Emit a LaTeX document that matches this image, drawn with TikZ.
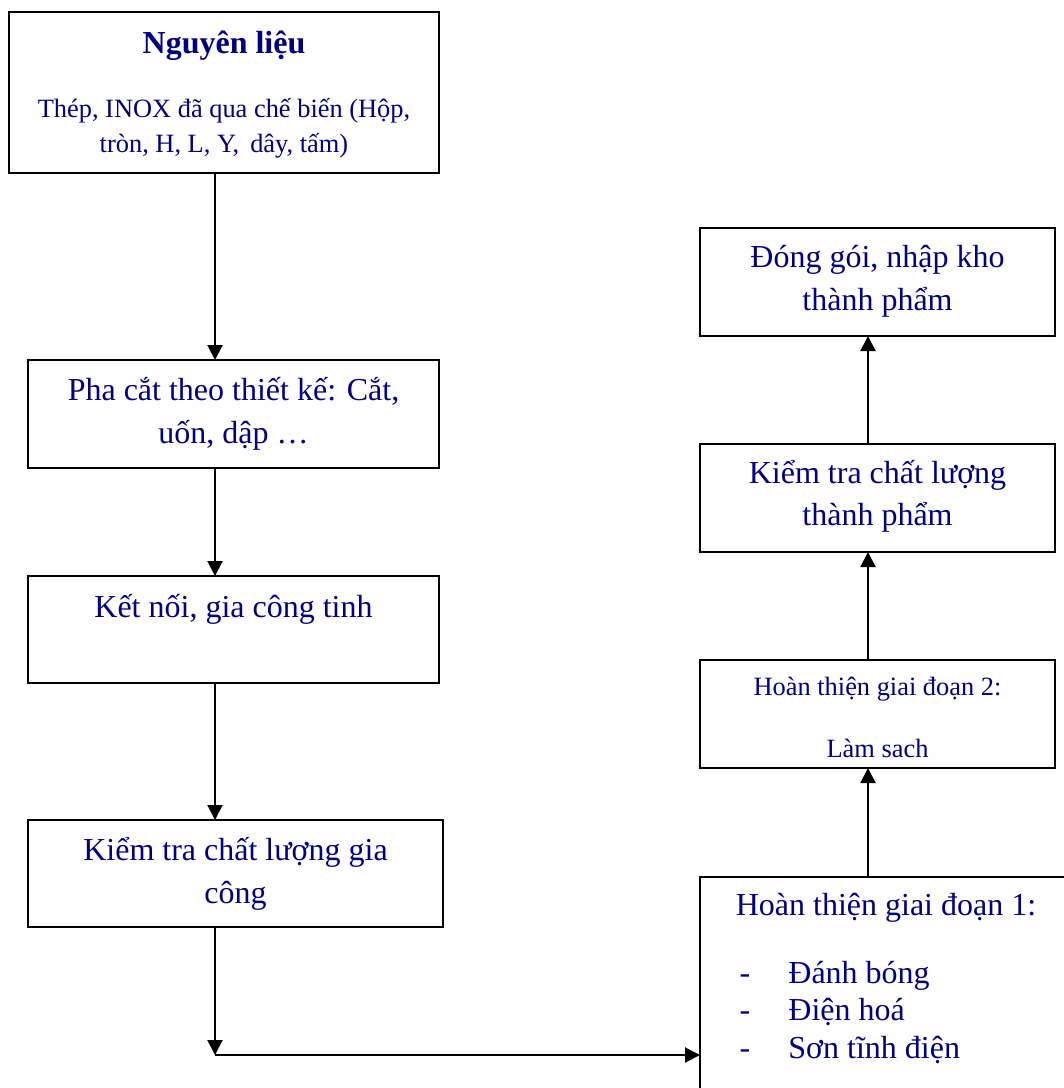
\documentclass[tikz,border=0pt]{standalone}
\usepackage{fontspec}
\setmainfont{Liberation Serif}
\usetikzlibrary{arrows.meta}
\definecolor{navytext}{RGB}{0,0,128}
\newcommand{\bigtxt}{\fontsize{16}{21.5}\selectfont}
\newcommand{\smalltxt}{\fontsize{13.2}{17.5}\selectfont}
\tikzset{
    box/.style={draw, line width=1pt, inner sep=0pt, outer sep=0pt},
    lbox/.style={box, minimum width=205.5pt, minimum height=54pt},
    rbox/.style={box, minimum width=177.5pt, minimum height=54pt},
    txt/.style={anchor=base, inner sep=0pt, text=navytext, font=\bigtxt},
    stxt/.style={txt, font=\smalltxt},
    arr/.style={line width=1pt, -{Triangle[length=7.5pt,width=7.5pt]}}
}
\begin{document}
\begin{tikzpicture}[x=0.5pt, y=-0.5pt]
    \useasboundingbox (0,0) rectangle (1064,1088);
    \clip (0,0) rectangle (1064,1088);

    % cot trai
    \node[box, minimum width=215pt, minimum height=80.5pt] (nl) at (224, 92.5) {};
    \node[txt, font=\bigtxt\bfseries] (nlt) at (224, 53) {Nguyên liệu};
    \node[stxt] (nla) at (224, 117) {Thép, INOX đã qua chế biến (Hộp,};
    \node[stxt] (nlb) at (224, 152) {tròn, H, L, Y,\, dây, tấm)};

    \node[lbox] (pc) at (233.5, 414) {};
    \node[txt] (pca) at (233.5, 400) {Pha cắt theo thiết kế: Cắt,};
    \node[txt] (pcb) at (233.5, 443) {uốn, dập …};

    \node[lbox, minimum height=53.5pt] (kn) at (233.5, 629.5) {};
    \node[txt] (kna) at (233.5, 617) {Kết nối, gia công tinh};

    \node[lbox, minimum width=207.5pt, minimum height=53.5pt] (kt) at (235.5, 873.5) {};
    \node[txt] (kta) at (235.5, 860) {Kiểm tra chất lượng gia};
    \node[txt] (ktb) at (235.5, 903) {công};

    % cot phai
    \node[rbox] (dg) at (877.5, 282) {};
    \node[txt] (dga) at (877.5, 267) {Đóng gói, nhập kho};
    \node[txt] (dgb) at (877.5, 310) {thành phẩm};

    \node[rbox] (tp) at (877.5, 498) {};
    \node[txt] (tpa) at (877.5, 483) {Kiểm tra chất lượng};
    \node[txt] (tpb) at (877.5, 525) {thành phẩm};

    \node[rbox] (ht2) at (877.5, 714) {};
    \node[stxt] (ht2a) at (877.5, 695) {Hoàn thiện giai đoạn 2:};
    \node[stxt] (ht2b) at (877.5, 757) {Làm sach};

    \node[box, minimum width=187.5pt, minimum height=121.5pt] (ht1) at (887.5, 998.5) {};
    \node[txt] (ht1a) at (886, 915) {Hoàn thiện giai đoạn 1:};
    \node[txt] (d1) at (745, 983) {-};
    \node[txt] (d2) at (745, 1020) {-};
    \node[txt] (d3) at (745, 1058) {-};
    \node[txt, anchor=base west] (i1) at (788, 983) {Đánh bóng};
    \node[txt, anchor=base west] (i2) at (788, 1020) {Điện hoá};
    \node[txt, anchor=base west] (i3) at (788, 1058) {Sơn tĩnh điện};

    % mui ten
    \coordinate (colL) at (215, 0);
    \coordinate (colR) at (868, 0);
    \coordinate (turn) at (215, 1055);
    \draw[arr] (nl.south -| colL) -- (pc.north -| colL);
    \draw[arr] (pc.south -| colL) -- (kn.north -| colL);
    \draw[arr] (kn.south -| colL) -- (kt.north -| colL);
    \draw[arr] (kt.south -| colL) -- (turn);
    \draw[arr] (turn) -- (ht1.west |- turn);
    \draw[arr] (ht1.north -| colR) -- (ht2.south -| colR);
    \draw[arr] (ht2.north -| colR) -- (tp.south -| colR);
    \draw[arr] (tp.north -| colR) -- (dg.south -| colR);
\end{tikzpicture}
\end{document}
